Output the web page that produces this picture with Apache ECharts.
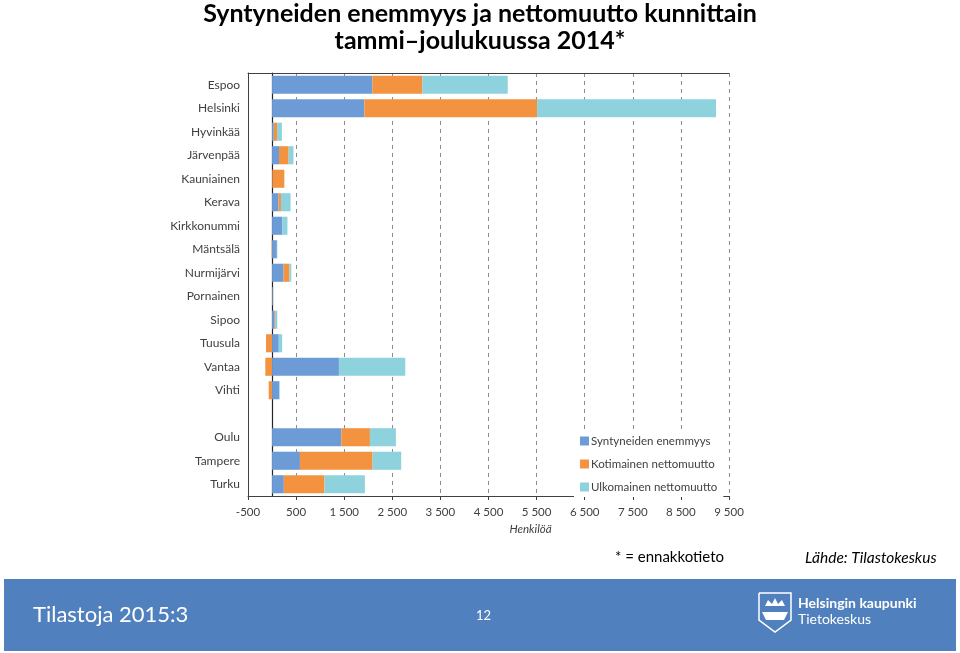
<!DOCTYPE html>
<html><head><meta charset="utf-8">
<script src="https://cdn.jsdelivr.net/npm/echarts@6/dist/echarts.min.js"></script>
<style>html,body{margin:0;padding:0;background:#fff}#c{width:960px;height:653px}</style>
</head><body><div id="c"></div>
<script>
const categories = ['Espoo','Helsinki','Hyvinkää','Järvenpää','Kauniainen','Kerava','Kirkkonummi','Mäntsälä','Nurmijärvi','Pornainen','Sipoo','Tuusula','Vantaa','Vihti','','Oulu','Tampere','Turku'];
const seriesNames = ['Syntyneiden enemmyys','Kotimainen nettomuutto','Ulkomainen nettomuutto'];
const natural  = [2085,1920,35,145,5,135,210,100,240,15,55,140,1390,150,null,1440,580,245];
const domestic = [1040,3590,70,200,250,50,0,-10,120,5,20,-125,-140,-70,null,595,1510,845];
const foreign  = [1775,3720,100,100,0,200,110,10,40,5,35,70,1380,10,null,540,595,840];
const xMin = -500, xMax = 9500, xStep = 1000;
const colors = ['#6C9BD6','#F39340','#8ED2DE'];

const font = 'Lato, "Open Sans", sans-serif';
const chart = echarts.init(document.getElementById('c'), null, {renderer:'canvas'});
const fmt = v => { const s = Math.abs(v).toString().replace(/\B(?=(\d{3})+(?!\d))/g, ' '); return (v<0?'-':'') + s; };
const mk = (name, data, i) => ({
  name, type:'bar', stack:'total', data, barCategoryGap:'23%',
  itemStyle:{color:colors[i]}, yAxisIndex:0, xAxisIndex:0
});
chart.setOption({
  animation:false,
  textStyle:{fontFamily:font},
  title:{
    text:'Syntyneiden enemmyys ja nettomuutto kunnittain\ntammi–joulukuussa 2014*',
    left:'center', top:-5,
    textStyle:{fontSize:25, fontWeight:'bold', color:'#000', lineHeight:27, fontFamily:font}
  },
  legend:{
    orient:'vertical', left:574, top:431, itemWidth:9, itemHeight:9, itemGap:11,
    backgroundColor:'#fff', padding:[4,6,4,6],
    icon:'rect',
    textStyle:{fontSize:11.5, color:'#404040', fontFamily:font, padding:[0,0,0,-3]},
    data:seriesNames
  },
  grid:{left:248, right:231, top:73, bottom:157, containLabel:false},
  xAxis:[{
    type:'value', min:xMin, max:xMax, interval:xStep, position:'bottom',
    axisLine:{show:true, onZero:false, lineStyle:{color:'#404040'}},
    axisTick:{show:true, length:4, lineStyle:{color:'#404040'}},
    axisLabel:{formatter:fmt, fontSize:11.5, color:'#404040', margin:10},
    splitLine:{show:true, lineStyle:{type:[4,4], color:'#8c8c8c'}},
    name:'Henkilöä', nameLocation:'middle', nameGap:27,
    nameTextStyle:{fontStyle:'italic', fontSize:11.5, color:'#404040', padding:[0,0,0,84]}
  },{
    type:'value', min:xMin, max:xMax, interval:xStep, position:'top',
    axisLine:{show:true, onZero:false, lineStyle:{color:'#404040'}},
    axisTick:{show:false}, axisLabel:{show:false}, splitLine:{show:false}
  }],
  yAxis:[{
    type:'category', data:categories, inverse:true,
    axisLine:{show:true, onZero:true, lineStyle:{color:'#262626', width:1.2}},
    axisTick:{show:false},
    axisLabel:{show:false}
  },{
    type:'category', data:categories, inverse:true, position:'left',
    axisLine:{show:true, onZero:false, lineStyle:{color:'#404040'}},
    axisTick:{show:false},
    axisLabel:{fontSize:12, color:'#404040', margin:8}
  }],
  series:[mk(seriesNames[0], natural, 0), mk(seriesNames[1], domestic, 1), mk(seriesNames[2], foreign, 2)],
  graphic:[
    {type:'text', left:615, top:550, style:{text:'* = ennakkotieto', fontSize:15, fill:'#000', fontFamily:font}},
    {type:'text', left:805, top:550, style:{text:'Lähde: Tilastokeskus', fontSize:15.5, fontStyle:'italic', fill:'#000', fontFamily:font}},
    {type:'rect', shape:{x:4, y:579, width:952, height:72}, style:{fill:'#5081BE'}},
    {type:'text', left:33, top:604, style:{text:'Tilastoja 2015:3', fontSize:22, fill:'#fff', fontFamily:font}},
    {type:'text', left:476, top:609, style:{text:'12', fontSize:13, fill:'#fff', fontFamily:font}},
    {type:'polyline', shape:{points:[[759,593],[791,593],[791,620],[775,632],[759,620],[759,593]]}, style:{stroke:'#fff', lineWidth:1.5, fill:null}},
    {type:'polygon', shape:{points:[[765,606],[768,600],[772,604],[775,598],[778,604],[782,600],[785,606]]}, style:{fill:'#fff'}},
    {type:'polygon', shape:{points:[[762,612],[788,612],[784,620],[766,620]]}, style:{fill:'#fff'}},
    {type:'text', left:798, top:596, style:{text:'Helsingin kaupunki', fontSize:14, fontWeight:'bold', fill:'#fff', fontFamily:font}},
    {type:'text', left:798, top:612, style:{text:'Tietokeskus', fontSize:14, fill:'#fff', fontFamily:font}}
  ]
});
</script></body></html>
